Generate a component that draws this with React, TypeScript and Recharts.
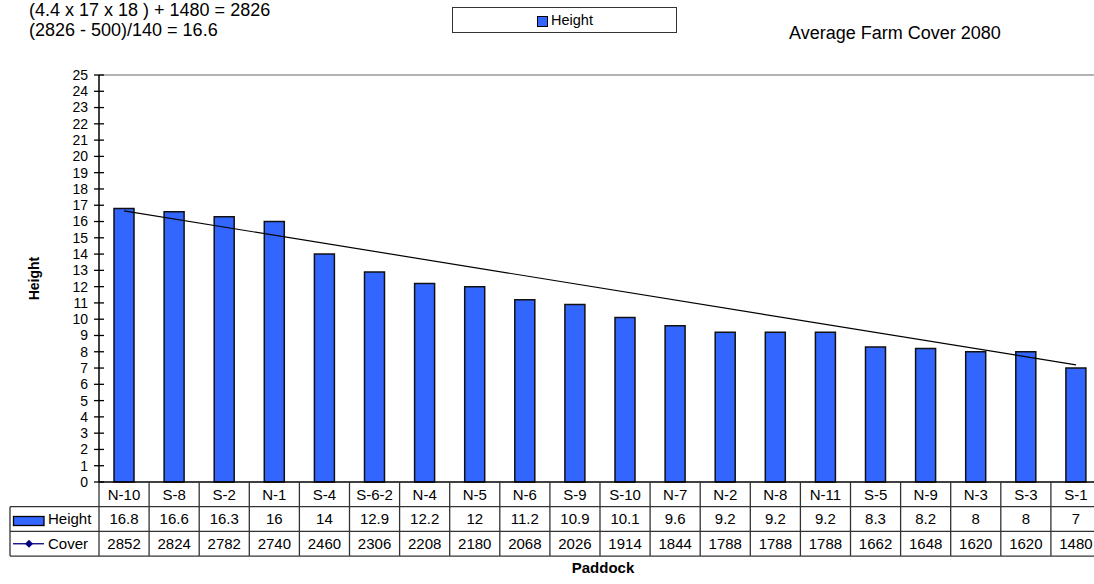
import React from 'react'
import { BarChart, Bar, XAxis, YAxis, ReferenceLine } from 'recharts'

const PADDOCKS = ['N-10', 'S-8', 'S-2', 'N-1', 'S-4', 'S-6-2', 'N-4', 'N-5', 'N-6', 'S-9', 'S-10', 'N-7', 'N-2', 'N-8', 'N-11', 'S-5', 'N-9', 'N-3', 'S-3', 'S-1']
const HEIGHTS = [16.8, 16.6, 16.3, 16, 14, 12.9, 12.2, 12, 11.2, 10.9, 10.1, 9.6, 9.2, 9.2, 9.2, 8.3, 8.2, 8, 8, 7]
const COVERS = [2852, 2824, 2782, 2740, 2460, 2306, 2208, 2180, 2068, 2026, 1914, 1844, 1788, 1788, 1788, 1662, 1648, 1620, 1620, 1480]
const Y_TICKS = [0, 1, 2, 3, 4, 5, 6, 7, 8, 9, 10, 11, 12, 13, 14, 15, 16, 17, 18, 19, 20, 21, 22, 23, 24, 25]
// trend line end values (first and last paddock)
const TREND_START = 16.65
const TREND_END = 7.2

const FORMULA_1 = '(4.4 x 17 x 18 ) + 1480 = 2826'
const FORMULA_2 = '(2826 - 500)/140 = 16.6'
const AVG_TEXT = 'Average Farm Cover 2080'

const data = PADDOCKS.map((name, i) => ({ name, height: HEIGHTS[i], cover: COVERS[i] }))

const FONT = '"Liberation Sans", Arial, sans-serif'
const CHART_W = 1102
const CHART_H = 584
const MARGIN = { top: 75, right: 1, left: 39, bottom: 0 }
const Y_AXIS_W = 60
const X_AXIS_H = 102
const AXIS_X = MARGIN.left + Y_AXIS_W
const PLOT_W = CHART_W - AXIS_X - MARGIN.right
const BAND = PLOT_W / PADDOCKS.length
const TABLE_TOP = CHART_H - X_AXIS_H
const ROW = 24.7
const LEGEND_LEFT = 10
const GRID = '#333'

const YTick = (props: any) => {
  const { y, payload } = props
  return (
    <g>
      <line x1={AXIS_X - 5} x2={AXIS_X + 5} y1={y} y2={y} stroke="#000" strokeWidth={1.3} />
      <text x={AXIS_X - 11} y={y} dy="0.35em" textAnchor="end" fontSize={14} fill="#000">
        {payload.value}
      </text>
    </g>
  )
}

const TableTick = (props: any) => {
  const { x, payload } = props
  const i = PADDOCKS.indexOf(payload.value)
  const left = x - BAND / 2
  const right = x + BAND / 2
  const bottom = TABLE_TOP + 3 * ROW
  const rows = [payload.value, String(HEIGHTS[i]), String(COVERS[i])]
  return (
    <g>
      {i === 0 && (
        <g>
          <line x1={left} x2={left} y1={TABLE_TOP} y2={bottom} stroke={GRID} strokeWidth={1.3} />
          <line x1={LEGEND_LEFT} x2={left} y1={TABLE_TOP + ROW} y2={TABLE_TOP + ROW} stroke={GRID} strokeWidth={1.3} />
          <line x1={LEGEND_LEFT} x2={left} y1={TABLE_TOP + 2 * ROW} y2={TABLE_TOP + 2 * ROW} stroke={GRID} strokeWidth={1.3} />
          <line x1={LEGEND_LEFT} x2={left} y1={bottom} y2={bottom} stroke={GRID} strokeWidth={1.3} />
          <line x1={LEGEND_LEFT} x2={LEGEND_LEFT} y1={TABLE_TOP + ROW} y2={bottom} stroke={GRID} strokeWidth={1.3} />
          <rect x={13.5} y={516.5} width={30.5} height={9} fill="#3366FF" stroke="#000" strokeWidth={1.3} />
          <text x={48} y={TABLE_TOP + 1.5 * ROW} dy="0.35em" fontSize={15} fill="#000">Height</text>
          <line x1={13} x2={44} y1={TABLE_TOP + 2.5 * ROW} y2={TABLE_TOP + 2.5 * ROW} stroke="#000080" strokeWidth={1.3} />
          <path
            d={`M29,${TABLE_TOP + 2.5 * ROW - 4} l4,4 l-4,4 l-4,-4 z`}
            fill="#000080"
          />
          <text x={48} y={TABLE_TOP + 2.5 * ROW} dy="0.35em" fontSize={15} fill="#000">Cover</text>
        </g>
      )}
      <line x1={right} x2={right} y1={TABLE_TOP} y2={bottom} stroke={GRID} strokeWidth={1.3} />
      <line x1={left} x2={right} y1={TABLE_TOP + ROW} y2={TABLE_TOP + ROW} stroke={GRID} strokeWidth={1.3} />
      <line x1={left} x2={right} y1={TABLE_TOP + 2 * ROW} y2={TABLE_TOP + 2 * ROW} stroke={GRID} strokeWidth={1.3} />
      <line x1={left} x2={right} y1={bottom} y2={bottom} stroke={GRID} strokeWidth={1.3} />
      {rows.map((t, r) => (
        <text key={r} x={x} y={TABLE_TOP + (r + 0.5) * ROW} dy="0.35em" textAnchor="middle" fontSize={15} fill="#000">
          {t}
        </text>
      ))}
    </g>
  )
}

const YLabel = (props: any) => {
  const { viewBox } = props
  const cx = viewBox.x - 5
  const cy = viewBox.y + viewBox.height / 2
  return (
    <text
      x={cx}
      y={cy}
      dy="0.35em"
      textAnchor="middle"
      fontSize={14}
      fontWeight="bold"
      fill="#000"
      transform={`rotate(-90, ${cx}, ${cy})`}
    >
      Height
    </text>
  )
}

const XLabel = (props: any) => {
  const { viewBox } = props
  return (
    <text x={viewBox.x + viewBox.width / 2 + 3} y={viewBox.y + 91} textAnchor="middle" fontSize={15} fontWeight="bold" fill="#000">
      Paddock
    </text>
  )
}

export default function App() {
  return (
    <div
      style={{
        position: 'absolute',
        left: 0,
        top: 0,
        width: 1094,
        height: 584,
        overflow: 'hidden',
        background: '#fff',
        fontFamily: FONT
      }}
    >
      <div style={{ position: 'absolute', left: 29, top: 0, fontSize: 18, lineHeight: '20px', color: '#000', whiteSpace: 'pre' }}>
        <div>{FORMULA_1}</div>
        <div>{FORMULA_2}</div>
      </div>
      <div style={{ position: 'absolute', left: 789, top: 22, fontSize: 18, lineHeight: '22px', color: '#000', whiteSpace: 'pre' }}>
        {AVG_TEXT}
      </div>
      <div
        style={{
          position: 'absolute',
          left: 452,
          top: 7,
          width: 223,
          height: 24,
          border: '1px solid #333',
          boxSizing: 'content-box'
        }}
      >
        <div style={{ position: 'absolute', left: 84, top: 8, width: 9, height: 9, background: '#3366FF', border: '1px solid #000' }} />
        <div style={{ position: 'absolute', left: 98, top: 3, fontSize: 14.5, lineHeight: '18px', color: '#000' }}>Height</div>
      </div>
      <div style={{ position: 'absolute', left: 0, top: 0 }}>
        <BarChart width={CHART_W} height={CHART_H} data={data} margin={MARGIN}>
          <ReferenceLine y={25} stroke="#999" strokeWidth={1.3} />
          <XAxis
            dataKey="name"
            height={X_AXIS_H}
            interval={0}
            tickLine={false}
            tick={<TableTick />}
            axisLine={{ stroke: '#000', strokeWidth: 1.5 }}
            label={{ content: XLabel }}
          />
          <YAxis
            width={Y_AXIS_W}
            domain={[0, 25]}
            ticks={Y_TICKS}
            interval={0}
            tickLine={false}
            tick={<YTick />}
            axisLine={{ stroke: '#000', strokeWidth: 1.5 }}
            label={{ content: YLabel }}
          />
          <Bar dataKey="height" fill="#3366FF" stroke="#111" strokeWidth={1.5} barSize={20} isAnimationActive={false} />
          <ReferenceLine
            segment={[
              { x: PADDOCKS[0], y: TREND_START },
              { x: PADDOCKS[PADDOCKS.length - 1], y: TREND_END }
            ]}
            stroke="#000"
            strokeWidth={1.2}
            ifOverflow="visible"
          />
        </BarChart>
      </div>
    </div>
  )
}
